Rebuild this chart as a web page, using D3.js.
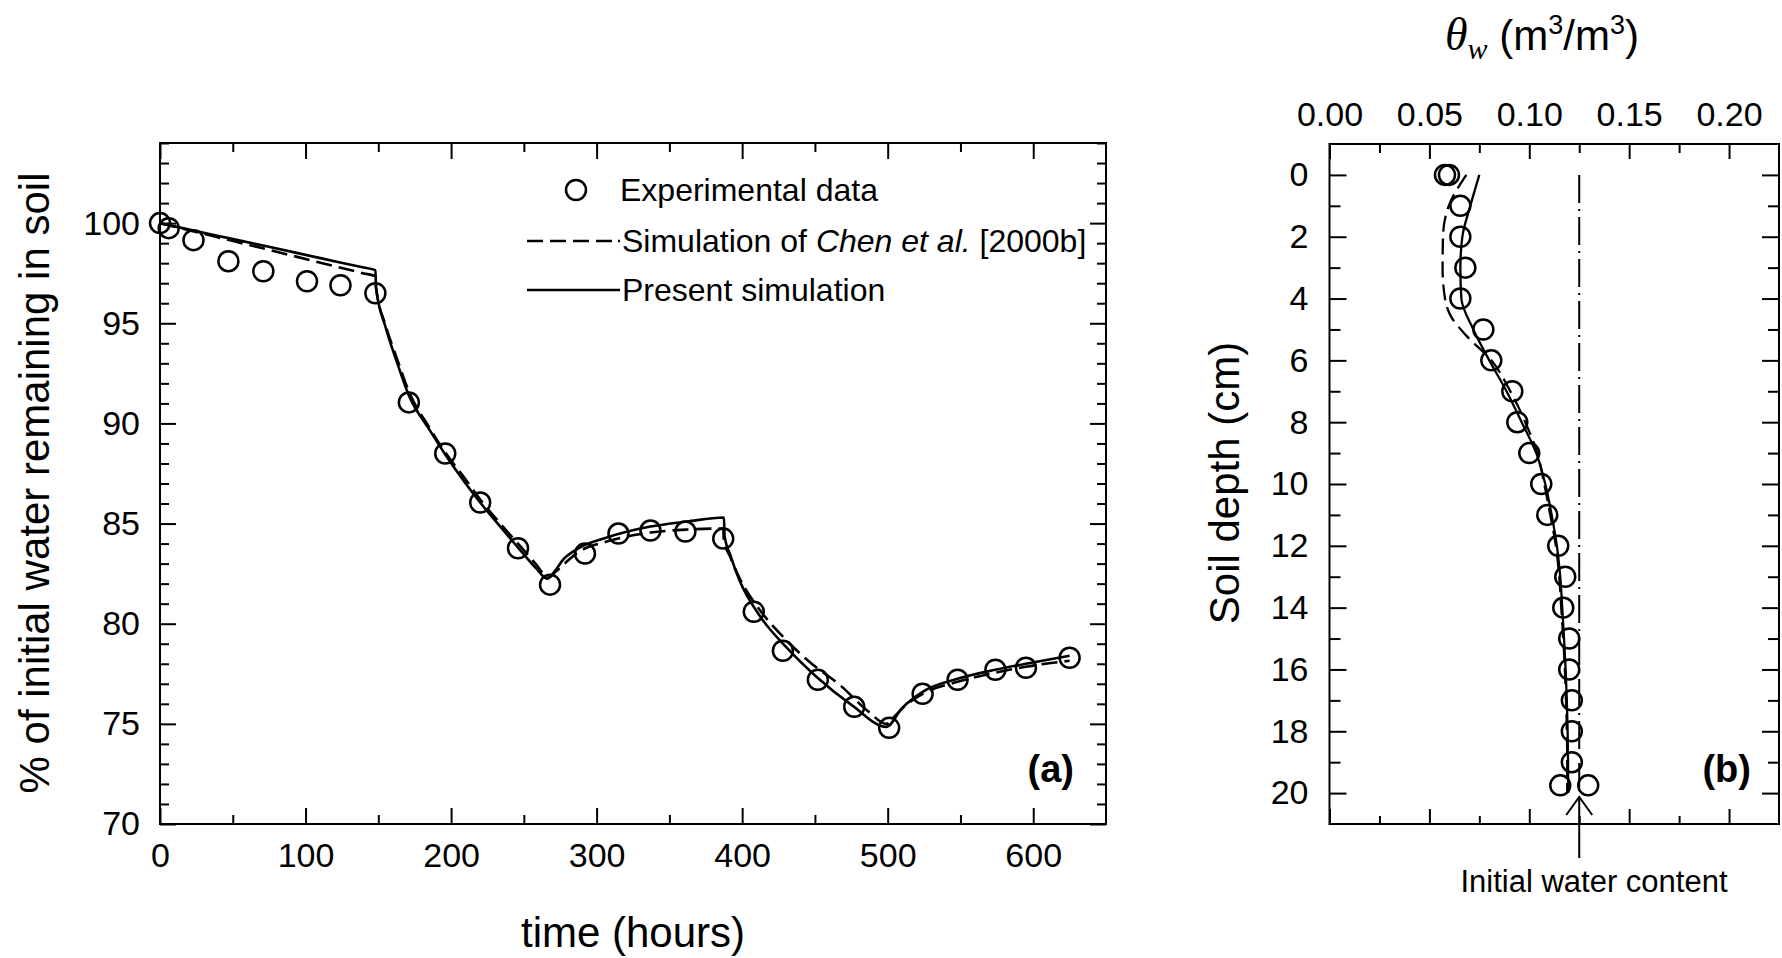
<!DOCTYPE html>
<meta charset="utf-8">
<style>
* { margin: 0; padding: 0; }
body { background: #fff; }
svg { display: block; font-family: "Liberation Sans", Arial, sans-serif; }
.frame { fill: none; stroke: #000; stroke-width: 2; }
.tick line { stroke: #000; stroke-width: 2; }
.tick text { fill: #000; font-size: 34px; }
.domain { display: none; }
.solid { fill: none; stroke: #000; stroke-width: 2.6; }
.dashed { fill: none; stroke: #000; stroke-width: 2.6; stroke-dasharray: 16,7; }
.dot { fill: none; stroke: #000; stroke-width: 2.5; }
</style>
<body>
<script src="https://cdn.jsdelivr.net/npm/d3@7"></script>
<script>

// ---- panel (a) data : water remaining vs time ----
var expTime  = [0, 6, 23, 47, 71, 101, 124, 148, 171, 196, 220, 246, 268, 292, 315, 337, 361, 387, 408, 428, 452, 477, 501, 524, 548, 574, 595, 625];
var expWater = [100, 99.75, 99.15, 98.1, 97.6, 97.1, 96.9, 96.5, 91.05, 88.5, 86.05, 83.77, 81.95, 83.5, 84.5, 84.65, 84.6, 84.25, 80.6, 78.65, 77.2, 75.85, 74.8, 76.5, 77.2, 77.7, 77.8, 78.3];

var presTime  = [0, 37, 74, 111, 140, 148, 148.4, 155, 162.6, 171, 185, 196, 210, 220, 235, 246, 258, 266, 271, 277, 286, 307, 337, 362, 387.5, 387.9, 392, 398, 412, 430, 451, 476, 499, 510, 524, 548, 574, 595, 625];
var presWater = [100, 99.41, 98.83, 98.24, 97.78, 97.65, 96.8, 94.8, 93.1, 91.4, 89.7, 88.45, 87.0, 86.05, 84.75, 83.8, 82.8, 82.25, 82.6, 83.2, 83.7, 84.3, 84.85, 85.1, 85.3, 84.4, 83.4, 82.2, 80.4, 78.85, 77.35, 75.9, 74.85, 75.8, 76.6, 77.25, 77.7, 78.0, 78.4];

var chenTime  = [0, 37, 74, 111, 140, 148, 148.4, 155, 163, 171, 185, 196, 210, 220, 235, 246, 258, 267, 272, 278, 286, 307, 337, 362, 387, 387.4, 392, 398, 412, 430, 447, 467, 487, 499, 505, 512, 524, 548, 574, 595, 625];
var chenWater = [100, 99.34, 98.68, 98.01, 97.49, 97.35, 96.8, 94.9, 93.2, 91.6, 89.8, 88.55, 87.2, 86.2, 84.9, 84.0, 83.0, 82.3, 82.6, 83.0, 83.5, 84.1, 84.55, 84.7, 84.75, 84.2, 83.3, 82.3, 80.7, 79.2, 78.05, 76.95, 75.6, 75.0, 75.4, 75.9, 76.5, 77.1, 77.55, 77.85, 78.15];

var timeTicks  = [0, 100, 200, 300, 400, 500, 600];
var waterTicks = [70, 75, 80, 85, 90, 95, 100];

// ---- panel (b) data : water content vs depth ----
var expDepth = [0, 0, 1, 2, 3, 4, 5, 6, 7, 8, 9, 10, 11, 12, 13, 14, 15, 16, 17, 18, 19, 19.75, 19.75];
var expTheta = [0.0578, 0.0598, 0.0655, 0.0655, 0.068, 0.0655, 0.077, 0.081, 0.0915, 0.094, 0.1, 0.106, 0.109, 0.1145, 0.118, 0.117, 0.12, 0.12, 0.1213, 0.1213, 0.1213, 0.1155, 0.1295];

var presDepth = [0, 1, 2, 3, 4, 5, 6, 7, 8, 9, 10, 11, 12, 13, 14, 15, 16, 17, 18, 19, 20];
var presTheta = [0.075, 0.0705, 0.0665, 0.0655, 0.066, 0.072, 0.080, 0.0886, 0.0962, 0.1035, 0.108, 0.1112, 0.1138, 0.1155, 0.1165, 0.1174, 0.1182, 0.1188, 0.1192, 0.1194, 0.1195];

var chenDepth = [0, 1, 2, 3, 4, 4.6, 5.2, 6, 7, 8, 9, 10, 11, 12, 13, 14, 15, 16, 17, 18, 19, 20];
var chenTheta = [0.0685, 0.0597, 0.0568, 0.0566, 0.0578, 0.061, 0.0685, 0.081, 0.0905, 0.098, 0.104, 0.1075, 0.1105, 0.1133, 0.115, 0.116, 0.117, 0.1178, 0.1184, 0.1188, 0.119, 0.119];

var initialTheta = 0.125;
var thetaTicks = [0, 0.05, 0.10, 0.15, 0.20];
var depthTicks = [0, 2, 4, 6, 8, 10, 12, 14, 16, 18, 20];


var width = 1782, height = 958;

var svg = d3.select("body").append("svg")
    .attr("width", width)
    .attr("height", height);

svg.append("rect").attr("width", width).attr("height", height).attr("fill", "#fff");

// helper: inward ticks with major/minor
function ticks(g, axisFn, scale, major, minor, bigLen, smallLen, pad, fmt) {
	g.append("g").call(axisFn(scale).tickValues(minor).tickSize(-smallLen).tickFormat(""));
	g.append("g").call(axisFn(scale).tickValues(major).tickSize(-bigLen).tickPadding(pad).tickFormat(fmt || ""));
}

// ================= panel (a) =================
var ax = d3.scaleLinear().domain([0, 650]).range([160, 1106]);
var ay = d3.scaleLinear().domain([70, 104]).range([824, 143]);

var ga = svg.append("g");

var minorT = d3.range(50, 650, 100);
var minorW = d3.range(71, 105, 1).filter(function(v) { return v % 5 != 0; });

ticks(ga.append("g").attr("transform", "translate(0,824)"), d3.axisBottom, ax, timeTicks, minorT, 16, 9, 19, d3.format("d"));
ticks(ga.append("g").attr("transform", "translate(0,143)"), d3.axisTop, ax, timeTicks, minorT, 16, 9, 0, null);
ticks(ga.append("g").attr("transform", "translate(160,0)"), d3.axisLeft, ay, waterTicks, minorW, 16, 9, 20, d3.format("d"));
ticks(ga.append("g").attr("transform", "translate(1106,0)"), d3.axisRight, ay, waterTicks, minorW, 16, 9, 0, null);

ga.append("rect").attr("class", "frame")
	.attr("x", 160).attr("y", 143).attr("width", 1106 - 160).attr("height", 824 - 143);

var lineA = d3.line()
	.x(function(d) { return ax(d[0]); })
	.y(function(d) { return ay(d[1]); })
	.curve(d3.curveMonotoneX);

ga.append("path").attr("class", "dashed")
	.attr("d", lineA(d3.zip(chenTime, chenWater)));
ga.append("path").attr("class", "solid")
	.attr("d", lineA(d3.zip(presTime, presWater)));

ga.selectAll("circle.exp").data(d3.zip(expTime, expWater)).enter()
	.append("circle").attr("class", "dot")
	.attr("cx", function(d) { return ax(d[0]); })
	.attr("cy", function(d) { return ay(d[1]); })
	.attr("r", 10);

// legend
var leg = ga.append("g").style("font-size", "32px");
leg.append("circle").attr("class", "dot").attr("cx", 576).attr("cy", 190).attr("r", 10);
leg.append("text").attr("x", 620).attr("y", 201).text("Experimental data");
leg.append("line").attr("class", "dashed").attr("x1", 527).attr("x2", 620).attr("y1", 241).attr("y2", 241)
	.style("stroke-dasharray", "16,7,16,7,16,7,16,6,3,10");
var t2 = leg.append("text").attr("x", 622).attr("y", 252);
t2.append("tspan").text("Simulation of ");
t2.append("tspan").style("font-style", "italic").text("Chen et al.");
t2.append("tspan").text(" [2000b]");
leg.append("line").attr("class", "solid").attr("x1", 527).attr("x2", 620).attr("y1", 290).attr("y2", 290);
leg.append("text").attr("x", 622).attr("y", 301).text("Present simulation");

ga.append("text").attr("x", 1074).attr("y", 782).attr("text-anchor", "end")
	.style("font-size", "38px").style("font-weight", "bold").text("(a)");

// axis titles
svg.append("text").attr("x", 633).attr("y", 947).attr("text-anchor", "middle")
	.style("font-size", "42px").text("time (hours)");
svg.append("text").attr("transform", "translate(49,483) rotate(-90)").attr("text-anchor", "middle")
	.style("font-size", "42px").text("% of initial water remaining in soil");

// ================= panel (b) =================
var bx = d3.scaleLinear().domain([0, 0.225]).range([1329.5, 1779]);
var by = d3.scaleLinear().domain([-1, 21]).range([144, 824]);

var gb = svg.append("g");

var minorTh = [0.025, 0.075, 0.125, 0.175];
var minorD = d3.range(-1, 22, 2).filter(function(v) { return v > -1 && v < 21; });

ticks(gb.append("g").attr("transform", "translate(0,144)"), d3.axisTop, bx, thetaTicks, minorTh, 15, 9, 18, d3.format(".2f"));
ticks(gb.append("g").attr("transform", "translate(0,824)"), d3.axisBottom, bx, thetaTicks, minorTh, 15, 8, 0, null);
ticks(gb.append("g").attr("transform", "translate(1329.5,0)"), d3.axisLeft, by, depthTicks, minorD, 17, 11, 21, d3.format("d"));
ticks(gb.append("g").attr("transform", "translate(1779,0)"), d3.axisRight, by, depthTicks, minorD, 17, 11, 0, null);

gb.append("rect").attr("class", "frame")
	.attr("x", 1329.5).attr("y", 144).attr("width", 1779 - 1329.5).attr("height", 824 - 144);

// initial water content, dash-dot
gb.append("line")
	.attr("x1", bx(initialTheta)).attr("x2", bx(initialTheta))
	.attr("y1", by(0)).attr("y2", by(20))
	.style("stroke", "#000").style("stroke-width", 2)
	.style("stroke-dasharray", "28,6,2,6");

var lineB = d3.line()
	.x(function(d) { return bx(d[0]); })
	.y(function(d) { return by(d[1]); })
	.curve(d3.curveMonotoneY);

gb.append("path").attr("class", "dashed").style("stroke-width", 2.3)
	.attr("d", lineB(d3.zip(chenTheta, chenDepth)));
gb.append("path").attr("class", "solid").style("stroke-width", 2.3)
	.attr("d", lineB(d3.zip(presTheta, presDepth)));

gb.selectAll("circle.exp").data(d3.zip(expTheta, expDepth)).enter()
	.append("circle").attr("class", "dot")
	.attr("cx", function(d) { return bx(d[0]); })
	.attr("cy", function(d) { return by(d[1]); })
	.attr("r", 10);

// arrow + note
var axx = bx(initialTheta);
gb.append("line").attr("x1", axx).attr("x2", axx).attr("y1", 858).attr("y2", 798)
	.style("stroke", "#000").style("stroke-width", 2);
gb.append("path").attr("d", "M" + (axx - 13) + ",815 L" + axx + ",797 L" + (axx + 13) + ",815")
	.style("fill", "none").style("stroke", "#000").style("stroke-width", 2);
gb.append("text").attr("x", 1594).attr("y", 892).attr("text-anchor", "middle")
	.style("font-size", "31px").text("Initial water content");

gb.append("text").attr("x", 1751).attr("y", 782).attr("text-anchor", "end")
	.style("font-size", "38px").style("font-weight", "bold").text("(b)");

// titles
var tt = svg.append("text").attr("x", 1542).attr("y", 50).attr("text-anchor", "middle")
	.style("font-size", "42px");
tt.append("tspan").style("font-family", "'Liberation Serif', 'Times New Roman', serif")
	.style("font-style", "italic").style("font-size", "46px").text("\u03b8");
tt.append("tspan").style("font-family", "'Liberation Serif', 'Times New Roman', serif")
	.style("font-style", "italic").style("font-size", "30px").attr("dy", 9).text("w");
tt.append("tspan").attr("dy", -9).text(" (m");
tt.append("tspan").style("font-size", "27px").attr("dy", -16).text("3");
tt.append("tspan").attr("dy", 16).text("/m");
tt.append("tspan").style("font-size", "27px").attr("dy", -16).text("3");
tt.append("tspan").attr("dy", 16).text(")");

svg.append("text").attr("transform", "translate(1239,483) rotate(-90)").attr("text-anchor", "middle")
	.style("font-size", "42px").text("Soil depth (cm)");

</script>
